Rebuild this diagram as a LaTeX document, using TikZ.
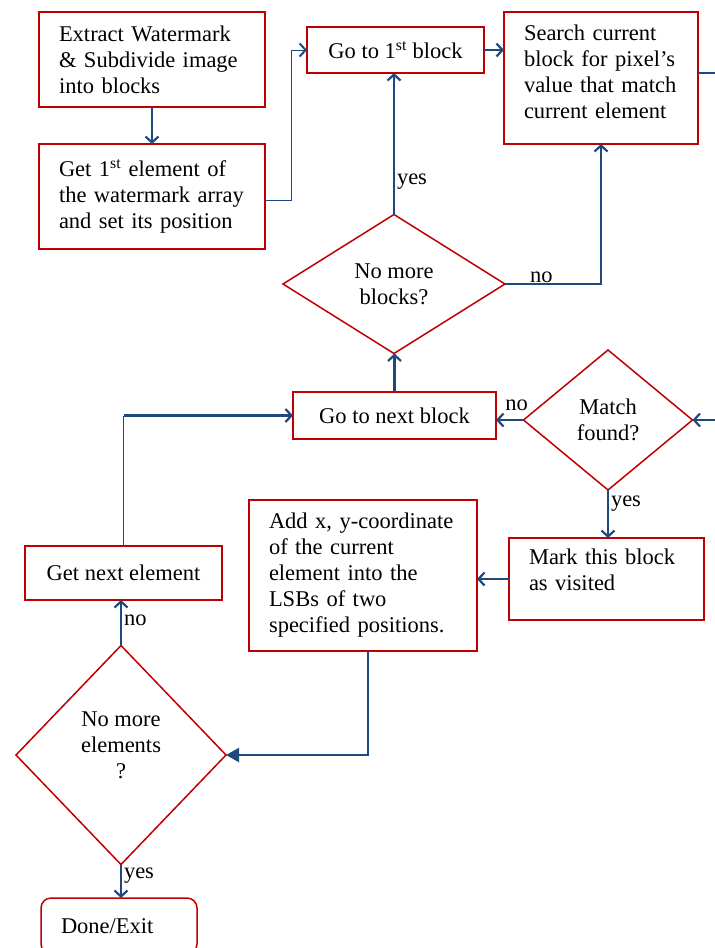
\documentclass[tikz,border=0pt]{standalone}
\usepackage{fontspec}
\setmainfont{Liberation Serif}
\usetikzlibrary{shapes.geometric,arrows.meta,positioning}
\definecolor{boxred}{RGB}{192,0,0}
\definecolor{flowblue}{RGB}{31,73,125}

\begin{document}
\begin{tikzpicture}[x=1pt,y=-1pt,outer sep=0pt,
    font=\fontsize{22.5}{26}\selectfont,
    block/.style={draw=boxred,line width=1.5pt,anchor=north west,inner xsep=20pt,inner ysep=0pt,align=left},
    decision/.style={diamond,draw=boxred,line width=1.5pt,inner sep=0pt,align=center},
    flow/.style={draw=flowblue,line width=2.2pt,-{Straight Barb[length=6pt,width=13pt]}},
    thinflow/.style={draw=flowblue,line width=0.9pt},
    tag/.style={inner sep=3pt}]
            \useasboundingbox (0,0) rectangle (715,948);
            \clip (0,0) rectangle (715,948);
            % boxes
            \node[block,text width=186pt,minimum height=95pt] (extract) at (39,12) {Extract Watermark\\ \& Subdivide image\\ into blocks};
            \node[block,text width=186pt,minimum height=105pt] (getfirst) at (39,144) {Get 1\textsuperscript{st} element of\\ the watermark array\\ and set its position};
            \node[block,inner xsep=0pt,minimum width=177pt,minimum height=46pt] (gofirst) at (307,27) {Go to 1\textsuperscript{st} block};
            \node[block,text width=154pt,minimum height=132pt] (search) at (504,12) {Search current\\ block for pixel’s\\ value that match\\ current element\rule[-12pt]{0pt}{12pt}};
            \node[decision,minimum width=222pt,minimum height=139pt] (moreblk) at (394,284) {No more\\ blocks?};
            \node[block,inner xsep=0pt,minimum width=203pt,minimum height=47pt] (gonext) at (293,392) {Go to next block};
            \node[decision,minimum width=169pt,minimum height=140pt] (match) at (608,420) {Match\\ found?};
            \node[block,text width=155pt,minimum height=82pt] (mark) at (509,538) {Mark this block\\ as visited\rule[-18pt]{0pt}{18pt}};
            \node[block,text width=188pt,minimum height=151pt] (addxy) at (249,500) {Add x, y-coordinate\\ of the current\\ element into the\\ LSBs of two\\ specified positions.};
            \node[block,inner xsep=0pt,minimum width=197pt,minimum height=54pt] (getnext) at (25,546) {Get next element};
            \node[decision,minimum width=210pt,minimum height=219pt] (moreel) at (121,755) {No more\\ elements\\ ?\rule[-20pt]{0pt}{20pt}};
            \node[block,text width=116pt,minimum height=56pt,rounded corners=10pt] (done) at (41,898) {Done/Exit};
            % connectors
            \draw[flow] (extract.south) -- (getfirst.north);
            \draw[thinflow,-{Straight Barb[length=6pt,width=13pt,line width=2pt]}] ([yshift=-3.5pt]getfirst.east) -- ++(26,0) |- (gofirst.west);
            \draw[flow] (gofirst.east) -- (gofirst.east -| search.west);
            \draw[flow] (moreblk.north) -- (moreblk.north |- gofirst.south) node[tag,pos=0.23,anchor=west] (yes1) {yes};
            \draw[flow] (moreblk.east) -| (search.south) node[tag,inner sep=1pt,pos=0.19,anchor=south] (no1) {no};
            \draw[flow] ([yshift=5pt]search.east) -- ++(32,0) |- (match.east);
            \draw[flow] (match.west) -- (match.west -| gonext.east) node[tag,inner sep=1pt,yshift=8pt,pos=0.25,anchor=south] (no2) {no};
            \draw[flow] (gonext.north) -- (gonext.north |- moreblk.south);
            \draw[flow] (match.south) -- (match.south |- mark.north) node[tag,pos=0.29,anchor=west] (yes2) {yes};
            \draw[flow] (mark.west) -- (mark.west -| addxy.east);
            \draw[flow,-{Triangle[length=13pt,width=14pt]}] ([xshift=5pt]addxy.south) |- (moreel.east);
            \draw[flow] (moreel.north) -- (moreel.north |- getnext.south) node[tag,pos=0.55,anchor=west] (no3) {no};
            \coordinate (bend) at (getnext.north |- gonext.west);
            \draw[thinflow] (getnext.north) -- (bend);
            \draw[flow] (bend) -- (gonext.west);
            \draw[flow] (moreel.south) -- (moreel.south |- done.north) node[tag,pos=0.33,anchor=west] (yes3) {yes};
\end{tikzpicture}
\end{document}
